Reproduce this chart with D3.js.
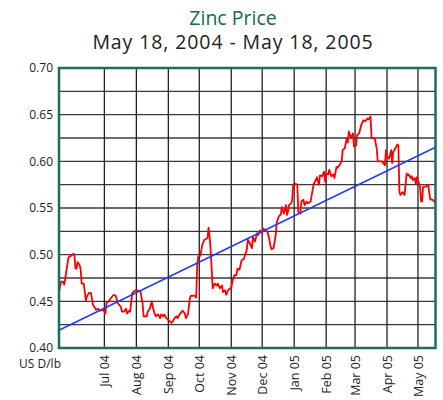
<!DOCTYPE html>
<html>
<head>
<meta charset="utf-8">
<script src="https://cdn.jsdelivr.net/npm/d3@7"></script>
<style>
  html, body { margin: 0; padding: 0; background: #fff; }
  svg { display: block; font-family: "Open Sans", "Noto Sans", sans-serif; }
</style>
</head>
<body>
<svg id="chart" width="443" height="400"></svg>
<script>
const titleLines = ["Zinc Price", "May 18, 2004 - May 18, 2005"];
const unitLabel = "US D/lb";
const yTicks = [0.40, 0.45, 0.50, 0.55, 0.60, 0.65, 0.70];
const yGrid = [0.425, 0.45, 0.475, 0.50, 0.525, 0.55, 0.575, 0.60, 0.625, 0.65, 0.675];
const monthTicks = ["2004-07-01","2004-08-01","2004-09-01","2004-10-01","2004-11-01","2004-12-01",
                    "2005-01-01","2005-02-01","2005-03-01","2005-04-01","2005-05-01"];
const period = ["2004-05-18", "2005-05-18"];
const trendValues = [0.419, 0.615];

const dates = [
"2004-05-18","2004-05-20","2004-05-22","2004-05-23","2004-05-24","2004-05-27","2004-05-28","2004-05-30",
"2004-06-01","2004-06-02","2004-06-03","2004-06-04","2004-06-05","2004-06-07","2004-06-08","2004-06-09",
"2004-06-11","2004-06-13","2004-06-14","2004-06-16","2004-06-18","2004-06-20","2004-06-23","2004-06-25",
"2004-06-27","2004-06-30","2004-07-02","2004-07-03","2004-07-05","2004-07-07","2004-07-10","2004-07-12",
"2004-07-14","2004-07-17","2004-07-18","2004-07-20","2004-07-22","2004-07-23","2004-07-25","2004-07-26",
"2004-07-28","2004-07-30","2004-08-01","2004-08-05","2004-08-06","2004-08-07","2004-08-08","2004-08-11",
"2004-08-12","2004-08-14","2004-08-16","2004-08-17","2004-08-19","2004-08-20","2004-08-22","2004-08-24",
"2004-08-25","2004-08-27","2004-08-28","2004-08-30","2004-09-02","2004-09-04","2004-09-05","2004-09-07",
"2004-09-09","2004-09-10","2004-09-12","2004-09-14","2004-09-15","2004-09-17","2004-09-18","2004-09-20",
"2004-09-22","2004-09-23","2004-09-27","2004-09-28","2004-09-29","2004-09-30","2004-10-02","2004-10-04",
"2004-10-06","2004-10-08","2004-10-09","2004-10-10","2004-10-11","2004-10-12","2004-10-14","2004-10-16",
"2004-10-18","2004-10-19","2004-10-21","2004-10-23","2004-10-24","2004-10-26","2004-10-27","2004-10-29",
"2004-10-31","2004-11-01","2004-11-02","2004-11-04","2004-11-06","2004-11-07","2004-11-09","2004-11-11",
"2004-11-13","2004-11-16","2004-11-17","2004-11-19","2004-11-21","2004-11-22","2004-11-24","2004-11-26",
"2004-11-27","2004-11-29","2004-12-01","2004-12-02","2004-12-04","2004-12-05","2004-12-06","2004-12-08",
"2004-12-09","2004-12-10","2004-12-12","2004-12-14","2004-12-15","2004-12-17","2004-12-19","2004-12-20",
"2004-12-22","2004-12-24","2004-12-25","2004-12-26","2004-12-27","2004-12-29","2004-12-30","2004-12-31",
"2005-01-02","2005-01-04","2005-01-05","2005-01-07","2005-01-08","2005-01-10","2005-01-11","2005-01-13",
"2005-01-14","2005-01-17","2005-01-18","2005-01-20","2005-01-22","2005-01-23","2005-01-25","2005-01-26",
"2005-01-28","2005-01-30","2005-01-31","2005-02-01","2005-02-03","2005-02-04","2005-02-06","2005-02-08",
"2005-02-09","2005-02-11","2005-02-12","2005-02-14","2005-02-16","2005-02-17","2005-02-19","2005-02-21",
"2005-02-22","2005-02-23","2005-02-25","2005-02-27","2005-02-28","2005-03-02","2005-03-03","2005-03-05",
"2005-03-07","2005-03-09","2005-03-11","2005-03-13","2005-03-14","2005-03-16","2005-03-17","2005-03-20",
"2005-03-22","2005-03-23","2005-03-27","2005-03-30","2005-03-31","2005-04-01","2005-04-03","2005-04-05",
"2005-04-06","2005-04-07","2005-04-10","2005-04-11","2005-04-12","2005-04-13","2005-04-14","2005-04-16",
"2005-04-18","2005-04-20","2005-04-21","2005-04-22","2005-04-24","2005-04-25","2005-04-26","2005-04-28",
"2005-04-29","2005-04-30","2005-05-03","2005-05-04","2005-05-05","2005-05-06","2005-05-09","2005-05-11",
"2005-05-12","2005-05-13","2005-05-15","2005-05-17","2005-05-18"
];
const prices = [
0.460,0.471,0.471,0.468,0.474,0.496,0.498,0.499,
0.501,0.499,0.485,0.485,0.492,0.489,0.484,0.469,
0.469,0.451,0.455,0.459,0.459,0.446,0.441,0.442,
0.440,0.441,0.437,0.448,0.450,0.453,0.457,0.456,
0.448,0.444,0.439,0.439,0.442,0.437,0.440,0.439,
0.459,0.461,0.462,0.461,0.454,0.448,0.434,0.434,
0.439,0.442,0.450,0.443,0.436,0.434,0.436,0.432,
0.436,0.434,0.436,0.432,0.429,0.427,0.428,0.432,
0.434,0.432,0.436,0.439,0.440,0.437,0.432,0.436,
0.454,0.456,0.456,0.454,0.489,0.498,0.499,0.511,
0.516,0.517,0.518,0.529,0.520,0.505,0.464,0.469,
0.467,0.469,0.464,0.467,0.460,0.462,0.457,0.462,
0.464,0.464,0.471,0.478,0.478,0.485,0.484,0.494,
0.495,0.505,0.516,0.512,0.507,0.519,0.514,0.523,
0.521,0.526,0.523,0.528,0.526,0.525,0.525,0.516,
0.509,0.506,0.507,0.520,0.534,0.541,0.543,0.551,
0.544,0.553,0.5425,0.546,0.553,0.555,0.558,0.575,
0.576,0.575,0.546,0.544,0.557,0.559,0.553,0.557,
0.555,0.557,0.564,0.576,0.580,0.583,0.575,0.585,
0.584,0.589,0.578,0.587,0.586,0.591,0.584,0.586,
0.582,0.594,0.593,0.596,0.600,0.612,0.614,0.625,
0.620,0.632,0.625,0.630,0.616,0.617,0.628,0.630,
0.639,0.644,0.643,0.646,0.645,0.648,0.625,0.625,
0.614,0.600,0.600,0.596,0.612,0.605,0.603,0.612,
0.598,0.610,0.616,0.618,0.617,0.567,0.564,0.567,
0.564,0.587,0.585,0.586,0.582,0.584,0.580,0.582,
0.576,0.583,0.573,0.557,0.557,0.573,0.573,0.575,
0.566,0.559,0.559,0.557,0.555
];

const parse = d3.timeParse("%Y-%m-%d");
const fmt = d3.timeFormat("%b %y");
const data = dates.map((d, i) => ({ date: parse(d), value: prices[i] }));

const svg = d3.select("#chart");
const m = { left: 59, right: 435.5, top: 68, bottom: 348 };

const x = d3.scaleTime().domain(period.map(parse)).range([m.left, m.right]);
const y = d3.scaleLinear().domain([0.40, 0.70]).range([m.bottom, m.top]);

// Title
svg.append("text").attr("x", 233).attr("y", 24.5).attr("text-anchor", "middle")
  .attr("font-size", 19.5).attr("fill", "#15694c").text(titleLines[0]);
svg.append("text").attr("x", 233).attr("y", 49).attr("text-anchor", "middle")
  .attr("font-size", 19.5).attr("letter-spacing", 0.9).attr("fill", "#222").text(titleLines[1]);

// Grid
const grid = svg.append("g");
grid.selectAll("line.h").data(yGrid).enter().append("line")
  .attr("x1", m.left).attr("x2", m.right)
  .attr("y1", d => y(d)).attr("y2", d => y(d))
  .attr("stroke", "#3a3a3a").attr("stroke-width", 1.3);
grid.selectAll("line.v").data(monthTicks.map(parse)).enter().append("line")
  .attr("x1", d => x(d)).attr("x2", d => x(d))
  .attr("y1", m.top).attr("y2", m.bottom)
  .attr("stroke", "#222").attr("stroke-width", 1.3);

// Y axis labels
const yAxis = d3.axisLeft(y).tickValues(yTicks).tickFormat(d3.format(".2f")).tickSize(0).tickPadding(6);
const ya = svg.append("g").attr("transform", `translate(${m.left},0)`).call(yAxis);
ya.select(".domain").remove();
ya.selectAll("text").attr("font-size", 12).attr("fill", "#222")
  .attr("font-family", '"Open Sans", "Noto Sans", sans-serif');

// X axis labels
const xAxis = d3.axisBottom(x).tickValues(monthTicks.map(parse)).tickFormat(fmt).tickSize(0);
const xa = svg.append("g").attr("transform", `translate(0,${m.bottom})`).call(xAxis);
xa.select(".domain").remove();
xa.selectAll("text").attr("font-size", 12.5).attr("fill", "#222")
  .attr("font-family", '"Open Sans", "Noto Sans", sans-serif')
  .attr("text-anchor", "end")
  .attr("transform", "rotate(-90)")
  .attr("x", -7).attr("y", 0).attr("dy", "0.35em");

svg.append("text").attr("x", 61).attr("y", 368).attr("text-anchor", "end")
  .attr("font-size", 12).attr("fill", "#222").text(unitLabel);

// Price line
svg.append("clipPath").attr("id", "clip").append("rect")
  .attr("x", m.left).attr("y", m.top).attr("width", m.right - m.left).attr("height", m.bottom - m.top);

svg.append("path").datum(data)
  .attr("clip-path", "url(#clip)")
  .attr("fill", "none").attr("stroke", "#ff0000").attr("stroke-width", 1.8)
  .attr("stroke-linejoin", "round")
  .attr("d", d3.line().x(d => x(d.date)).y(d => y(d.value)));

// Trend line
const trend = period.map((d, i) => ({ date: parse(d), value: trendValues[i] }));
svg.append("path").datum(trend)
  .attr("fill", "none").attr("stroke", "#1f3cff").attr("stroke-width", 1.6)
  .attr("d", d3.line().x(d => x(d.date)).y(d => y(d.value)));

// Frame
svg.append("rect").attr("x", m.left).attr("y", m.top)
  .attr("width", m.right - m.left).attr("height", m.bottom - m.top)
  .attr("fill", "none").attr("stroke", "#1b6e5c").attr("stroke-width", 2.5);
</script>
</body>
</html>
